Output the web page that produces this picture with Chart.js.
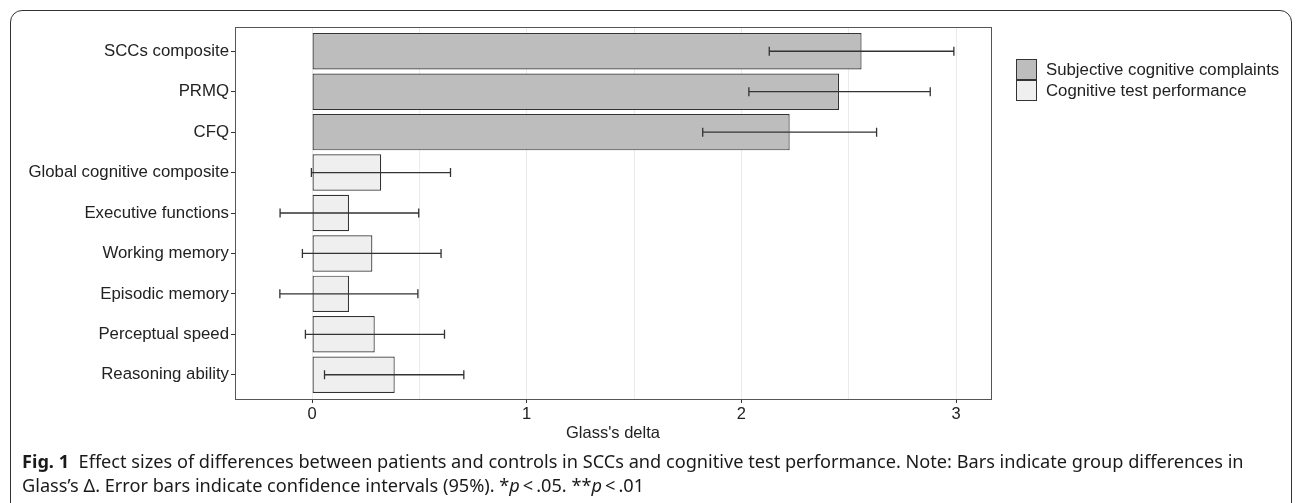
<!DOCTYPE html>
<html>
<head>
<meta charset="utf-8">
<script src="https://cdn.jsdelivr.net/npm/chart.js@4.4.1/dist/chart.umd.min.js"></script>
<style>
  html, body { margin: 0; padding: 0; background: #fff; width: 1298px; height: 503px; overflow: hidden; }
  #frame { position: absolute; left: 10px; top: 10px; width: 1282px; height: 530px; border: 1.5px solid #333; border-radius: 12px; box-sizing: border-box; }
  #chart { position: absolute; left: 0; top: 0; }
  #legend { position: absolute; left: 1016px; top: 59px; font: 16.8px "Liberation Sans", Arial, sans-serif; color: #222; }
  .item { display: flex; align-items: center; height: 21px; }
  .key { width: 21px; height: 21px; box-sizing: border-box; border: 1px solid #333; margin-right: 9px; }
  #caption { position: absolute; left: 22px; top: 449px; font-family: "Noto Sans", sans-serif; font-size: 15.5px; color: #1a1a1a; line-height: 24px; white-space: nowrap; }
  #caption b { font-weight: 700; }
</style>
</head>
<body>
<div id="frame"></div>
<canvas id="chart" width="1298" height="503"></canvas>
<div id="legend"></div>
<div id="caption">
  <div id="cap1"><b>Fig. 1</b>&nbsp; Effect sizes of differences between patients and controls in SCCs and cognitive test performance. Note: Bars indicate group differences in</div>
  <div id="cap2">Glass’s Δ. Error bars indicate confidence intervals (95%). *<i>p</i>&#8201;&lt;&#8201;.05. **<i>p</i>&#8201;&lt;&#8201;.01</div>
</div>
<script>
// categorias (de cima para baixo)
const categories = [
  'SCCs composite', 'PRMQ', 'CFQ', 'Global cognitive composite', 'Executive functions',
  'Working memory', 'Episodic memory', 'Perceptual speed', 'Reasoning ability'
];
// grupo de cada categoria (índice em groups)
const groupOf = [0, 0, 0, 1, 1, 1, 1, 1, 1];
const groups = ['Subjective cognitive complaints', 'Cognitive test performance'];

// Glass's delta e intervalos de confiança (95%)
const delta  = [2.56, 2.455, 2.225, 0.322, 0.172, 0.281, 0.172, 0.292, 0.385];
const ciLow  = [2.13, 2.035, 1.82, -0.003, -0.149, -0.045, -0.15, -0.031, 0.058];
const ciHigh = [2.99, 2.88, 2.63, 0.645, 0.497, 0.601, 0.493, 0.617, 0.707];

const xTicks = [0, 1, 2, 3];
const groupFill = ['#bdbdbd', '#efefef'];

const FONT = '"Liberation Sans", Arial, sans-serif';
const INK = '#222';

// legenda em HTML
const legend = document.getElementById('legend');
groups.forEach((g, gi) => {
  const item = document.createElement('div');
  item.className = 'item';
  item.innerHTML = `<span class="key" style="background:${groupFill[gi]}"></span><span>${g}</span>`;
  legend.appendChild(item);
});

// barras de erro
const errorBars = {
  id: 'errorBars',
  afterDatasetsDraw(chart) {
    const { ctx, scales: { x, y } } = chart;
    ctx.save();
    ctx.strokeStyle = '#333';
    ctx.lineWidth = 1.3;
    categories.forEach((c, i) => {
      const yy = y.getPixelForValue(i);
      const x0 = x.getPixelForValue(ciLow[i]);
      const x1 = x.getPixelForValue(ciHigh[i]);
      ctx.beginPath();
      ctx.moveTo(x0, yy); ctx.lineTo(x1, yy);
      ctx.moveTo(x0, yy - 4.5); ctx.lineTo(x0, yy + 4.5);
      ctx.moveTo(x1, yy - 4.5); ctx.lineTo(x1, yy + 4.5);
      ctx.stroke();
    });
    ctx.restore();
  }
};

// moldura do painel
const panelBorder = {
  id: 'panelBorder',
  afterDraw(chart) {
    const { ctx, chartArea: a } = chart;
    ctx.save();
    ctx.strokeStyle = '#555';
    ctx.lineWidth = 1;
    ctx.strokeRect(Math.round(a.left) + 0.5, Math.round(a.top) + 0.5,
      Math.round(a.right - a.left), Math.round(a.bottom - a.top));
    ctx.restore();
  }
};

const datasets = groups.map((g, gi) => ({
  label: g,
  data: categories
    .map((c, i) => (groupOf[i] === gi ? { x: delta[i], y: i } : null))
    .filter(d => d !== null),
  backgroundColor: groupFill[gi],
  borderColor: '#333',
  borderWidth: 1.2,
  borderSkipped: false,
  categoryPercentage: 0.9,
  barPercentage: 1
}));

new Chart(document.getElementById('chart'), {
  type: 'bar',
  data: { datasets },
  plugins: [errorBars, panelBorder],
  options: {
    indexAxis: 'y',
    responsive: false,
    animation: false,
    devicePixelRatio: 1,
    layout: { padding: { left: 0, top: 27, right: 307, bottom: 56 } },
    plugins: { legend: { display: false }, tooltip: { enabled: false } },
    scales: {
      x: {
        type: 'linear',
        min: -0.359,
        max: 3.163,
        afterFit: s => { s.height = 48; },
        border: { display: false },
        grid: {
          color: '#ebebeb',
          lineWidth: 1,
          tickLength: 4,
          tickColor: ctx => (xTicks.includes(ctx.tick.value) ? '#333' : 'rgba(0,0,0,0)')
        },
        ticks: {
          stepSize: 0.5,
          includeBounds: false,
          padding: 2,
          color: INK,
          font: { family: FONT, size: 16.5 },
          callback: v => (xTicks.includes(v) ? String(v) : '')
        },
        title: {
          display: true,
          text: "Glass's delta",
          color: INK,
          font: { family: FONT, size: 16.5 },
          padding: { top: 4, bottom: 4 }
        }
      },
      y: {
        type: 'linear',
        min: -0.6,
        max: 8.6,
        reverse: true,
        stacked: true,
        offset: false,
        afterFit: s => { s.width = 235; },
        border: { display: false },
        grid: { drawOnChartArea: false, offset: false, tickLength: 4, tickColor: '#333' },
        ticks: {
          stepSize: 1,
          includeBounds: false,
          autoSkip: false,
          padding: 2,
          color: INK,
          font: { family: FONT, size: 16.8 },
          callback: v => (categories[v] !== undefined ? categories[v] : '')
        }
      }
    }
  }
});

// ajusta o tamanho da legenda da figura para a largura da linha 1
const cap1 = document.getElementById('cap1');
const capBox = document.getElementById('caption');
const w = cap1.getBoundingClientRect().width;
capBox.style.fontSize = (15.5 * 1222 / w).toFixed(2) + 'px';
</script>
</body>
</html>
